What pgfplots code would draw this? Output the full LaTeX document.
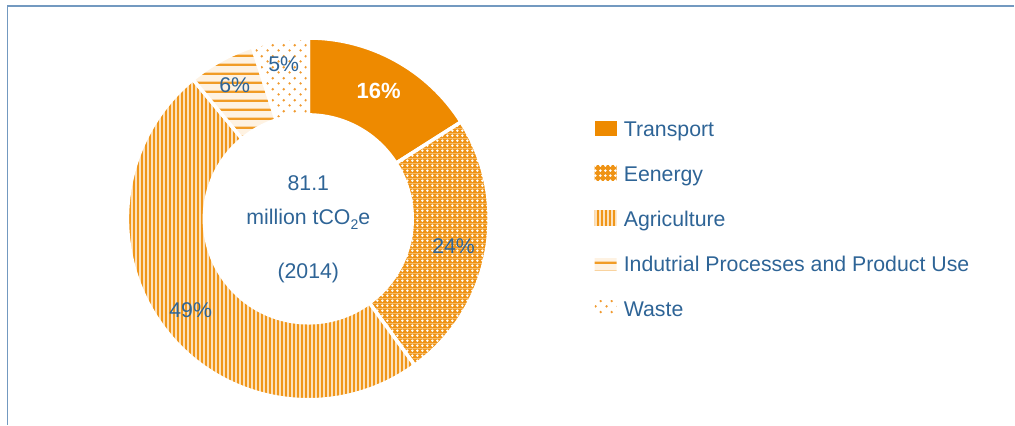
\documentclass[border=0pt]{standalone}
\usepackage{pgfplots}
\pgfplotsset{compat=1.18}
\usepackage{pgfplotstable}
\usetikzlibrary{patterns,calc}
\usepackage{fontspec}
\setmainfont{Liberation Sans}

\definecolor{orng}{HTML}{EE8A00}
\definecolor{pale}{HTML}{FCE1BC}
\definecolor{cream}{HTML}{FEF2E2}
\definecolor{dotc}{HTML}{F09A30}
\definecolor{txt}{HTML}{2E6496}
\definecolor{frame}{HTML}{7399C0}

% fills of the sectors
\pgfdeclarepatterninherentlycolored{energy}{\pgfqpoint{0pt}{0pt}}{\pgfqpoint{5.3pt}{5.3pt}}{\pgfqpoint{5.3pt}{5.3pt}}{%
  \pgfsetfillcolor{orng!92}%
  \pgfpathrectangle{\pgfqpoint{0pt}{0pt}}{\pgfqpoint{5.3pt}{5.3pt}}\pgfusepath{fill}%
  \pgfsetfillcolor{white}%
  \pgfpathcircle{\pgfqpoint{2.65pt}{2.65pt}}{1.55pt}\pgfusepath{fill}}
\pgfdeclarepatterninherentlycolored{agri}{\pgfqpoint{0pt}{0pt}}{\pgfqpoint{4.4pt}{4.4pt}}{\pgfqpoint{4.4pt}{4.4pt}}{%
  \pgfsetfillcolor{pale}%
  \pgfpathrectangle{\pgfqpoint{0pt}{0pt}}{\pgfqpoint{4.4pt}{4.4pt}}\pgfusepath{fill}%
  \pgfsetfillcolor{orng!90}%
  \pgfpathrectangle{\pgfqpoint{0pt}{0pt}}{\pgfqpoint{2.1pt}{4.4pt}}\pgfusepath{fill}}
\pgfdeclarepatterninherentlycolored{indus}{\pgfqpoint{0pt}{0pt}}{\pgfqpoint{9pt}{9pt}}{\pgfqpoint{9pt}{9pt}}{%
  \pgfsetfillcolor{cream}%
  \pgfpathrectangle{\pgfqpoint{0pt}{0pt}}{\pgfqpoint{9pt}{9pt}}\pgfusepath{fill}%
  \pgfsetfillcolor{orng!85}%
  \pgfpathrectangle{\pgfqpoint{0pt}{0pt}}{\pgfqpoint{9pt}{2.4pt}}\pgfusepath{fill}}
\pgfdeclarepatterninherentlycolored{waste}{\pgfqpoint{0pt}{0pt}}{\pgfqpoint{10.6pt}{10.6pt}}{\pgfqpoint{10.6pt}{10.6pt}}{%
  \pgfsetfillcolor{dotc}%
  \pgfpathcircle{\pgfqpoint{2.65pt}{2.65pt}}{1.35pt}\pgfusepath{fill}%
  \pgfpathcircle{\pgfqpoint{7.95pt}{7.95pt}}{1.35pt}\pgfusepath{fill}}

\tikzset{
  slice0/.style={fill=orng},
  slice1/.style={pattern=energy},
  slice2/.style={pattern=agri},
  slice3/.style={pattern=indus},
  slice4/.style={pattern=waste},
  lbl/.style={text=txt, font=\fontsize{21.3}{25}\selectfont, inner sep=0pt},
  lbl0/.style={text=white, font=\fontsize{22}{25}\selectfont\bfseries, inner sep=0pt},
  lbl1/.style={lbl}, lbl2/.style={lbl}, lbl3/.style={lbl}, lbl4/.style={lbl},
  leg/.style={text=txt, font=\fontsize{21.3}{25}\selectfont, anchor=base west, inner sep=0pt},
}

% share of emissions, % (lr = radius of the value label)
\pgfplotstableread{
sector value lr
Transport 16 146
Energy 24 148
Agriculture 49 149
Industrial 6 153
Waste 5 157
}\shares
\pgfplotstablecreatecol[create col/expr accum={\pgfmathaccuma+\thisrow{value}}{0}]{cum}\shares

\begin{document}
\begin{tikzpicture}
\begin{axis}[
  width=1015pt, height=425pt, scale only axis,
  xmin=0, xmax=1015, ymin=0, ymax=425,
  hide axis, clip=false]
  \path (axis cs:0,0) rectangle (axis cs:1015,425);
  \draw[frame, line width=1.3pt] (axis cs:7.5,0) -- (axis cs:7.5,419) -- (axis cs:1015,419);

  \pgfplotsinvokeforeach{0,...,4}{
    \pgfplotstablegetelem{#1}{value}\of\shares \let\va\pgfplotsretval
    \pgfplotstablegetelem{#1}{cum}\of\shares \let\vc\pgfplotsretval
    \pgfplotstablegetelem{#1}{lr}\of\shares \let\vr\pgfplotsretval
    \pgfmathsetmacro\aS{90-3.6*(\vc-\va)}
    \pgfmathsetmacro\aE{90-3.6*\vc}
    \pgfmathsetmacro\aM{(\aS+\aE)/2}
    \edef\temp{\noexpand\path[slice#1, draw=white, line width=3.5pt]
      (axis cs:308.5,206) ++(\aS:181pt) arc[start angle=\aS, end angle=\aE, radius=181pt]
      -- ++(\aE+180:77pt) arc[start angle=\aE, end angle=\aS, radius=104pt] -- cycle;}
    \temp
    \edef\temp{\noexpand\node[lbl#1] at ($(axis cs:308.5,206)+(\aM:\vr pt)$) {\va\noexpand\%};}
    \temp
  }

  % centre text
  \node[lbl] at (axis cs:308.5,242) {81.1};
  \node[lbl] at (axis cs:308.5,206) {million tCO\raisebox{-0.45ex}{\fontsize{14}{14}\selectfont 2}e};
  \node[lbl] at (axis cs:308.5,152) {(2014)};

  % legend
  \fill[orng] (axis cs:595,289) rectangle (axis cs:617,304);
  \node[leg] at (axis cs:624,288) {Transport};
  \fill[pattern=energy] (axis cs:595,244) rectangle (axis cs:617,259);
  \node[leg] at (axis cs:624,243) {Eenergy};
  \fill[pattern=agri] (axis cs:595,199) rectangle (axis cs:617,214);
  \node[leg] at (axis cs:624,198) {Agriculture};
  \fill[pattern=indus] (axis cs:595,154) rectangle (axis cs:617,166);
  \node[leg] at (axis cs:624,153) {Indutrial Processes and Product Use};
  \fill[pattern=waste] (axis cs:595,109) rectangle (axis cs:617,124);
  \node[leg] at (axis cs:624,108) {Waste};
\end{axis}
\end{tikzpicture}
\end{document}
